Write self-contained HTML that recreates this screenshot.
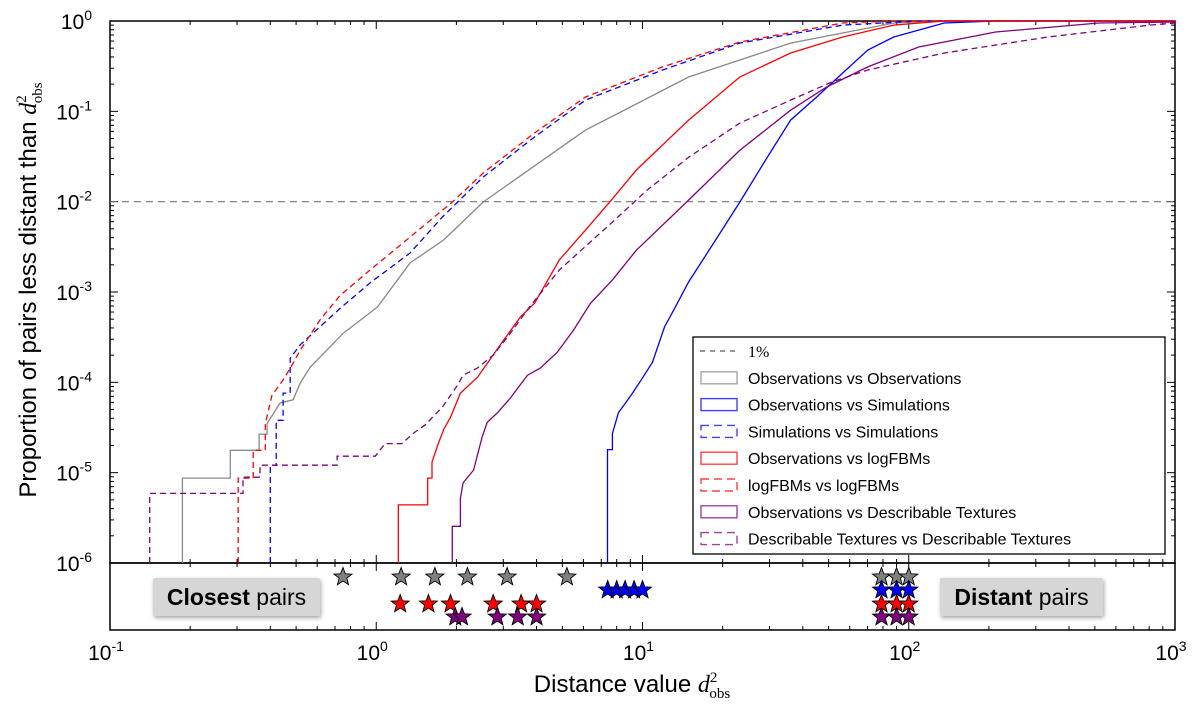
<!DOCTYPE html>
<html><head><meta charset="utf-8">
<style>
body{margin:0;background:#fff;}
svg{display:block;font-family:"Liberation Sans",sans-serif;}
</style></head>
<body>
<svg id="chart" width="1200" height="707">
<rect x="0" y="0" width="1200" height="707" fill="#fff"/>
<defs>
<filter id="sh" x="-10%" y="-20%" width="130%" height="160%"><feDropShadow dx="1" dy="2" stdDeviation="2" flood-color="#000" flood-opacity="0.35"/></filter>
</defs>
<g id="plot"></g>
</svg>
<script>
const grayD=[0.187,0.187,0.283,0.283,0.363,0.363,0.389,0.389,0.435,0.487,0.518,0.565,0.752,1.01,1.34,1.79,2.52,6.11,14.9,36.0,87.9,136,1000];
const grayP=[1e-6,8.7e-6,8.7e-6,1.77e-5,1.77e-5,2.67e-5,2.67e-5,3.5e-5,5.9e-5,6.4e-5,9.8e-5,0.000147,0.00035,0.00068,0.0021,0.00376,0.0099,0.062,0.24,0.57,0.95,1,1];
const blueD=[7.39,7.39,7.71,7.71,8.12,8.63,9.17,9.82,10.9,12.1,13.1,14.9,18.5,23.2,29.0,36.0,45.1,56.5,70.2,87.9,136,212,1000];
const blueP=[1e-6,1.8e-5,1.8e-5,2.7e-5,4.6e-5,5.9e-5,7.6e-5,0.000103,0.000167,0.00041,0.00063,0.00129,0.00348,0.0099,0.0289,0.080,0.144,0.266,0.477,0.665,0.95,1,1];
const blueDashD=[0.40,0.40,0.421,0.421,0.447,0.447,0.475,0.475,0.518,0.732,0.948,1.34,1.77,2.52,3.93,6.11,11.9,23.2,56.5,109,1000];
const blueDashP=[1e-6,1.21e-5,1.21e-5,3.8e-5,3.8e-5,7.6e-5,7.6e-5,0.000185,0.00026,0.00066,0.00126,0.0027,0.00675,0.0187,0.052,0.133,0.287,0.57,0.90,1,1];
const redD=[1.21,1.21,1.56,1.56,1.62,1.62,1.70,1.79,1.90,2.07,2.40,3.00,3.48,3.93,4.87,6.11,7.64,9.49,14.9,23.2,36.0,56.5,87.9,136,1000];
const redP=[1e-6,4.4e-6,4.4e-6,8.7e-6,8.7e-6,1.31e-5,2.0e-5,3.0e-5,4.1e-5,7.6e-5,0.000114,0.00029,0.00053,0.00075,0.00226,0.00484,0.0104,0.0224,0.080,0.24,0.442,0.665,0.90,1,1];
const redDashD=[0.303,0.303,0.345,0.345,0.383,0.383,0.406,0.447,0.487,0.518,0.615,0.732,0.948,1.23,1.93,2.52,3.93,6.11,11.9,23.2,56.5,87.9,1000];
const redDashP=[1e-6,8.7e-6,8.7e-6,1.77e-5,1.77e-5,3.5e-5,7.2e-5,0.000106,0.000163,0.000227,0.00049,0.00092,0.00175,0.0033,0.0099,0.0207,0.0575,0.144,0.31,0.585,0.95,1,1];
const purpD=[1.93,1.93,2.07,2.07,2.12,2.32,2.50,2.61,2.85,3.19,3.70,4.14,4.79,5.51,6.38,7.71,9.49,14.9,23.2,36.0,49.2,70.2,109,212,517,1000];
const purpP=[1e-6,2.55e-6,2.55e-6,5.2e-6,7.7e-6,1.07e-5,2.5e-5,3.6e-5,4.6e-5,6.7e-5,0.00012,0.000144,0.000216,0.00038,0.00075,0.00136,0.0029,0.0104,0.037,0.103,0.186,0.31,0.515,0.755,0.95,0.975];
const purpDashD=[0.141,0.141,0.316,0.316,0.366,0.366,0.713,0.713,0.991,1.08,1.25,1.37,1.53,1.77,2.02,2.12,2.40,2.75,3.19,3.76,4.87,7.64,10.4,14.9,23.2,36.0,51.4,70.2,136,333,805,1000];
const purpDashP=[1e-6,5.9e-6,5.9e-6,8.9e-6,8.9e-6,1.21e-5,1.21e-5,1.52e-5,1.52e-5,2.1e-5,2.1e-5,2.7e-5,3.4e-5,5.3e-5,9.3e-5,0.00012,0.000144,0.0002,0.00035,0.00068,0.00175,0.0058,0.0134,0.031,0.074,0.133,0.211,0.287,0.442,0.665,0.90,0.95];
const closestGray=[0.75,1.24,1.66,2.2,3.1,5.2];
const closestRed=[1.23,1.57,1.9,2.75,3.5,4.0];
const closestPurple=[1.98,2.1,2.85,3.4,4.0];
const closestBlue=[7.4,8.0,8.6,9.3,10.0];
const distantVals=[79,90,100];
const xTickLabels=["-1","0","1","2","3"];
const yTickLabels=["0","-1","-2","-3","-4","-5","-6"];
const legendLabels=["1%","Observations vs Observations","Observations vs Simulations","Simulations vs Simulations","Observations vs logFBMs","logFBMs vs logFBMs","Observations vs Describable Textures","Describable Textures vs Describable Textures"];

const NS="http://www.w3.org/2000/svg";
const L=110,R=1175,T=21,B=563,SB=630;
const xs=d=>L+(Math.log10(d)+1)*(R-L)/4;
const ys=p=>T+(-Math.log10(p))*(B-T)/6;
const g=document.getElementById('plot');
function mk(tag,attrs,parent){const e=document.createElementNS(NS,tag);for(const k in attrs)e.setAttribute(k,attrs[k]);(parent||g).appendChild(e);return e;}

// frames
const f1=mk('rect',{x:L,y:T,width:R-L,height:B-T,fill:'none',stroke:'#000','stroke-width':1.5});


const f2=mk('rect',{x:L,y:B,width:R-L,height:SB-B,fill:'none',stroke:'#000','stroke-width':1.5});



// x ticks
for(let e=-1;e<=3;e++){
  for(let m=1;m<10;m++){
    if(e===3&&m>1)break;
    const x=xs(m*Math.pow(10,e));const len=m===1?8:4;
    [[T,T+len],[B,B-len],[B,B+len],[SB,SB-len]].forEach(([a,b])=>mk('line',{x1:x,x2:x,y1:a,y2:b,stroke:'#000','stroke-width':1}));
  }
}
xTickLabels.forEach((lab,i)=>{
  const t=mk('text',{x:xs(Math.pow(10,+lab))-4,y:660,'font-size':21,'text-anchor':'middle',fill:'#000'});
  
  
  t.innerHTML='10<tspan dy="-9" font-size="14">'+lab+'</tspan>';
});
// y ticks
for(let e=-6;e<=0;e++){
  for(let m=1;m<10;m++){
    if(e===0&&m>1)break;
    const y=ys(m*Math.pow(10,e));const len=m===1?8:4;
    mk('line',{x1:L,x2:L+len,y1:y,y2:y,stroke:'#000','stroke-width':1});
    mk('line',{x1:R,x2:R-len,y1:y,y2:y,stroke:'#000','stroke-width':1});
  }
}
yTickLabels.forEach(lab=>{
  const t=mk('text',{x:92,y:ys(Math.pow(10,+lab))+8,'font-size':21,'text-anchor':'end',fill:'#000'});
  
  
  t.innerHTML='10<tspan dy="-9" font-size="14">'+lab+'</tspan>';
});

// 1% line
const ref=mk('line',{x1:L,x2:R,y1:ys(0.01),y2:ys(0.01),stroke:'#777','stroke-width':1.2,'stroke-dasharray':'7,5'});



const series=[
 [grayD,grayP,'#888',null,'obs-vs-obs-line'],
 [blueD,blueP,'#0000ff',null,'obs-vs-sim-line'],
 [blueDashD,blueDashP,'#0000ff','6,4','sim-vs-sim-line'],
 [redD,redP,'#ff0000',null,'obs-vs-logfbm-line'],
 [redDashD,redDashP,'#ff0000','6,4','logfbm-vs-logfbm-line'],
 [purpD,purpP,'#800080',null,'obs-vs-dtd-line'],
 [purpDashD,purpDashP,'#800080','6,4','dtd-vs-dtd-line']
];
series.forEach(([D,P,c,dash,name])=>{
  const pts=D.map((d,i)=>xs(d).toFixed(1)+','+ys(P[i]).toFixed(1)).join(' ');
  const a={points:pts,fill:'none',stroke:c,'stroke-width':1.3,'stroke-linejoin':'miter'};
  if(dash)a['stroke-dasharray']=dash;
  const pl=mk('polyline',a);
  
  
});

// legend
const lg=mk('g',{});


mk('rect',{x:693,y:337,width:472,height:217,fill:'#fff',stroke:'#000','stroke-width':1.3},lg);
const lstyles=[['#777','5,5',true],['#888',null],['#0000ff',null],['#0000ff','8,5'],['#ff0000',null],['#ff0000','8,5'],['#800080',null],['#800080','8,5']];
legendLabels.forEach((lab,i)=>{
  const y=351+i*26.8;
  const [c,dash,isLine]=lstyles[i];
  const a={stroke:c,'stroke-width':1.4,fill:'none'};
  if(dash)a['stroke-dasharray']=dash;
  if(isLine){a.x1=700;a.x2=738;a.y1=y;a.y2=y;mk('line',a,lg);}
  else{a.x=701;a.y=y-6;a.width=36;a.height=12;a.opacity=0.75;mk('rect',a,lg);}
  const t=mk('text',{x:748,y:y+6,'font-size':16,fill:'#000'},lg);
  if(i===0){t.setAttribute('font-family','"Liberation Serif",serif');}
  
  
  t.textContent=lab;
});

// stars
function star(cx,cy,r,color){
  let pts=[];
  for(let k=0;k<10;k++){const ang=-Math.PI/2+k*Math.PI/5;const rr=k%2?r*0.42:r;pts.push((cx+rr*Math.cos(ang)).toFixed(1)+','+(cy+rr*Math.sin(ang)).toFixed(1));}
  const s=mk('polygon',{points:pts.join(' '),fill:color,stroke:'#000','stroke-width':0.9});
  
  
}
closestGray.forEach(d=>star(xs(d),577,9.5,'#808080'));
closestBlue.forEach(d=>star(xs(d),590,9.5,'#0000ff'));
closestRed.forEach(d=>star(xs(d),604,9.5,'#ff0000'));
closestPurple.forEach(d=>star(xs(d),617,9.5,'#800080'));
[['#808080',577],['#0000ff',590],['#ff0000',604],['#800080',617]].forEach(([c,y])=>distantVals.forEach(d=>star(xs(d),y,9.5,c)));

// boxes
function box(x,y,w,h,bold,rest,name){
  const gg=mk('g',{});
  
  
  mk('rect',{x:x,y:y,width:w,height:h,fill:'#d6d6d6',rx:2,filter:'url(#sh)'},gg);
  const t=mk('text',{x:x+w/2,y:y+h/2+8,'font-size':23,'text-anchor':'middle',fill:'#000'},gg);
  t.innerHTML='<tspan font-weight="bold">'+bold+'</tspan> '+rest;
}
box(153,578,167,38,'Closest','pairs','closest-pairs-label');
box(940,578,163,38,'Distant','pairs','distant-pairs-label');

// axis titles
const xt=mk('text',{x:632,y:692,'font-size':24,'text-anchor':'middle',fill:'#000'});


xt.innerHTML='Distance value <tspan font-family="Liberation Serif,serif" font-style="italic">d</tspan><tspan font-family="Liberation Serif,serif" font-size="15" dy="-10">2</tspan><tspan font-family="Liberation Serif,serif" font-size="15" dx="-8" dy="16">obs</tspan>';
const yt=mk('text',{x:0,y:0,'font-size':24,'text-anchor':'middle',fill:'#000',transform:'translate(36,290) rotate(-90)'});


yt.innerHTML='Proportion of pairs less distant than <tspan font-family="Liberation Serif,serif" font-style="italic">d</tspan><tspan font-family="Liberation Serif,serif" font-size="15" dy="-10">2</tspan><tspan font-family="Liberation Serif,serif" font-size="15" dx="-8" dy="16">obs</tspan>';
</script>
</body></html>
